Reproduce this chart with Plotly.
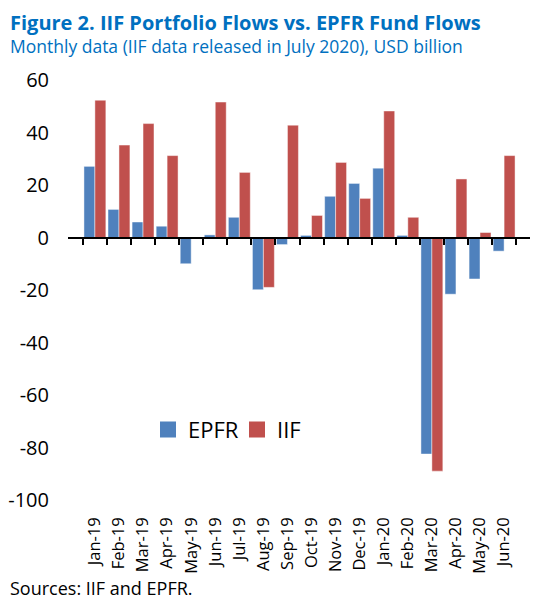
import plotly.graph_objects as go

months = ["Jan-19", "Feb-19", "Mar-19", "Apr-19", "May-19", "Jun-19", "Jul-19", "Aug-19", "Sep-19",
          "Oct-19", "Nov-19", "Dec-19", "Jan-20", "Feb-20", "Mar-20", "Apr-20", "May-20", "Jun-20"]
epfr = [27.1, 10.7, 5.9, 4.3, -10.0, 1.0, 7.7, -19.9, -2.7, 0.8, 15.7, 20.6, 26.4, 0.8, -82.5, -21.6, -15.8, -5.2]
iif = [52.3, 35.2, 43.4, 31.2, -0.5, 51.6, 24.8, -19.0, 42.8, 8.4, 28.6, 14.9, 48.2, 7.7, -89.0, 22.3, 1.9, 31.2]
y_ticks = [60, 40, 20, 0, -20, -40, -60, -80, -100]

title = "Figure 2. IIF Portfolio Flows vs. EPFR Fund Flows"
subtitle = "Monthly data (IIF data released in July 2020), USD billion"
source = "Sources: IIF and EPFR."

FONT = "Open Sans"
BLUE = "#0070C0"
C_EPFR = "#4F81BD"
C_IIF = "#C0504D"

fig = go.Figure()
fig.add_trace(go.Bar(x=months, y=epfr, name="EPFR", showlegend=False,
                     marker=dict(color=C_EPFR, line=dict(color="rgba(255,255,255,0.45)", width=1))))
fig.add_trace(go.Bar(x=months, y=iif, name="IIF", showlegend=False,
                     marker=dict(color=C_IIF, line=dict(color="rgba(255,255,255,0.45)", width=1))))
# legend entries with larger square swatches
for nm, col in (("EPFR", C_EPFR), ("IIF", C_IIF)):
    fig.add_trace(go.Scatter(x=[None], y=[None], name=nm, mode="markers",
                             marker=dict(symbol="square", size=16, color=col)))
# invisible trace to carry category labels on the bottom axis
fig.add_trace(go.Scatter(x=months, y=[0] * len(months), xaxis="x2", mode="markers",
                         marker=dict(opacity=0), showlegend=False, hoverinfo="skip"))

W, H = 530, 593
L, R, T, B = 60, 7, 72, 101
pw = W - L - R
y_min, y_max = -100, 60
fig.update_layout(
    width=W, height=H,
    margin=dict(l=L, r=R, t=T, b=B, autoexpand=False),
    paper_bgcolor="white", plot_bgcolor="white",
    font=dict(family=FONT, color="#000000"),
    barmode="group", bargap=0.09, bargroupgap=0.0,
    xaxis=dict(type="category", categoryorder="array", categoryarray=months,
               anchor="free", position=(0 - y_min) / (y_max - y_min), automargin=False,
               showline=True, linecolor="#000000", linewidth=2,
               ticks="outside", ticklen=6, tickwidth=2, tickcolor="#000000",
               tickson="boundaries", showticklabels=False, showgrid=False, zeroline=False),
    xaxis2=dict(type="category", categoryorder="array", categoryarray=months,
                overlaying="x", matches="x", anchor="y", side="bottom", automargin=False,
                showline=False, ticks="", showgrid=False, zeroline=False,
                tickangle=-90, tickfont=dict(size=16.5, family=FONT, color="#000000"),
                ticklabelstandoff=13),
    yaxis=dict(range=[y_min, y_max], tickvals=y_ticks, ticktext=[str(v) for v in y_ticks],
               automargin=False,
               showgrid=False, zeroline=False, showline=False, ticks="",
               tickfont=dict(size=20, family=FONT, color="#000000"),
               ticklabelstandoff=18),
    legend=dict(orientation="h", x=(140 - L) / pw, y=(492 - 421.5) / 420.5,
                xanchor="left", yanchor="middle",
                font=dict(size=22, family=FONT, color="#000000"), bgcolor="rgba(0,0,0,0)",
                itemwidth=30, traceorder="normal", entrywidth=44, entrywidthmode="pixels"),
    showlegend=True,
)

fig.add_annotation(text="<b>" + title + "</b>", xref="paper", yref="paper", x=-L / pw, y=1,
                   xanchor="left", yanchor="middle", yshift=58, showarrow=False,
                   font=dict(size=20, color=BLUE, family=FONT))
fig.add_annotation(text=subtitle, xref="paper", yref="paper", x=-L / pw, y=1,
                   xanchor="left", yanchor="middle", yshift=34, showarrow=False,
                   font=dict(size=17.5, color=BLUE, family=FONT))
fig.add_annotation(text=source, xref="paper", yref="paper", x=-L / pw, y=0,
                   xanchor="left", yanchor="middle", yshift=-88, showarrow=False,
                   font=dict(size=18, color="#000000", family=FONT))

fig.write_html("out.html")
